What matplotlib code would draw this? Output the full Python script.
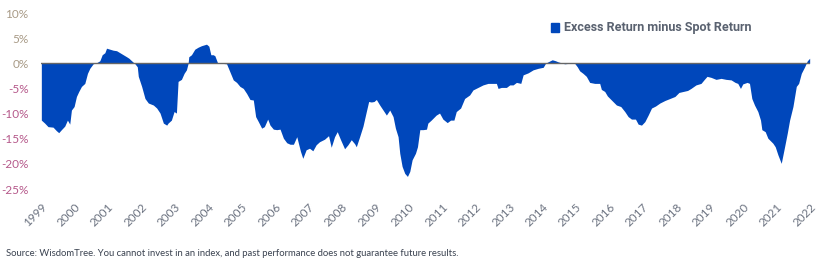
import matplotlib
matplotlib.use("Agg")
import matplotlib.pyplot as plt
from matplotlib.patches import Patch

# decimal year / excess minus spot return (%)
dates = [
    1999.01, 1999.11, 1999.21, 1999.36, 1999.46, 1999.53, 1999.61, 1999.71, 1999.79, 1999.86,
    1999.91, 1999.99, 2000.06, 2000.13, 2000.21, 2000.31, 2000.39, 2000.46, 2000.56, 2000.66,
    2000.76, 2000.83, 2000.91, 2000.96, 2001.06, 2001.16, 2001.26, 2001.36, 2001.46, 2001.56,
    2001.63, 2001.71, 2001.81, 2001.88, 2001.91, 2002.01, 2002.11, 2002.21, 2002.36, 2002.46,
    2002.56, 2002.66, 2002.76,
    2002.80, 2002.90, 2002.98, 2003.05, 2003.10, 2003.20, 2003.28, 2003.35, 2003.40, 2003.42,
    2003.50, 2003.60, 2003.70, 2003.80, 2003.95, 2004.02, 2004.08, 2004.15, 2004.20, 2004.28,
    2004.40, 2004.55, 2004.65, 2004.75, 2004.85, 2004.95, 2005.05, 2005.15, 2005.25, 2005.35,
    2005.42, 2005.50, 2005.60, 2005.68, 2005.78, 2005.85, 2005.95, 2006.05, 2006.15, 2006.25,
    2006.35, 2006.45, 2006.55, 2006.65,
    2006.76, 2006.83, 2006.93, 2007.03, 2007.13, 2007.23, 2007.33, 2007.48, 2007.60, 2007.68,
    2007.78, 2007.86, 2007.96, 2008.08, 2008.18, 2008.28, 2008.38, 2008.43, 2008.53, 2008.63,
    2008.73, 2008.80, 2008.88, 2008.96, 2009.03, 2009.13, 2009.23, 2009.33, 2009.43, 2009.53,
    2009.60, 2009.68, 2009.73, 2009.80, 2009.88, 2009.96, 2010.03, 2010.10, 2010.20, 2010.26,
    2010.33, 2010.43, 2010.53,
    2010.57, 2010.67, 2010.82, 2010.92, 2011.02, 2011.15, 2011.25, 2011.35, 2011.42, 2011.55,
    2011.67, 2011.82, 2011.92, 2012.07, 2012.22, 2012.37, 2012.52, 2012.62, 2012.67, 2012.77,
    2012.92, 2013.02, 2013.12, 2013.22, 2013.35, 2013.42, 2013.57, 2013.72, 2013.87, 2014.02,
    2014.09, 2014.17, 2014.29, 2014.39,
    2014.46, 2014.56, 2014.66, 2014.81, 2014.96, 2015.04, 2015.11, 2015.21, 2015.31, 2015.41,
    2015.56, 2015.71, 2015.76, 2015.86, 2015.94, 2016.06, 2016.21, 2016.34, 2016.46, 2016.56,
    2016.66, 2016.78, 2016.86, 2016.96, 2017.06, 2017.16, 2017.26, 2017.38, 2017.51, 2017.66,
    2017.81, 2017.96, 2018.08, 2018.21,
    2018.34, 2018.44, 2018.59, 2018.74, 2018.84, 2018.92, 2019.04, 2019.19, 2019.34, 2019.49,
    2019.64, 2019.76, 2019.84, 2019.92, 2019.99, 2020.12, 2020.19, 2020.26, 2020.34, 2020.44,
    2020.52, 2020.56, 2020.66, 2020.74, 2020.89, 2020.96, 2021.04, 2021.14, 2021.24, 2021.32,
    2021.39, 2021.49, 2021.59, 2021.66, 2021.74, 2021.84, 2021.92, 2021.99,
]
excess_minus_spot = [
    -11.3, -11.9, -12.6, -12.7, -13.4, -13.8, -13.2, -12.5, -11.3, -12.1,
    -9.3, -8.6, -6.6, -5.6, -4.6, -4.0, -2.0, -1.0, -0.1, 0.1,
    0.5, 1.7, 2.1, 3.0, 2.8, 2.6, 2.5, 2.1, 1.7, 1.3,
    1.0, 0.5, -0.1, -0.7, -2.6, -4.6, -7.0, -7.9, -8.3, -8.9,
    -9.9, -11.9, -12.3,
    -11.9, -11.3, -9.6, -9.9, -3.6, -3.2, -2.0, -1.3, 0.0, 1.3,
    1.7, 2.8, 3.2, 3.5, 3.8, 3.4, 1.7, 1.7, 1.5, 0.1,
    0.0, -0.1, -1.7, -3.3, -3.8, -4.6, -5.0, -6.0, -7.2, -7.3,
    -10.6, -11.6, -12.9, -12.6, -11.1, -12.3, -13.1, -13.2, -13.1, -14.9,
    -15.8, -16.1, -16.1, -14.6,
    -17.5, -18.9, -17.2, -16.9, -17.4, -16.2, -15.6, -15.1, -14.4, -16.7,
    -14.6, -13.6, -15.2, -17.0, -16.2, -15.2, -16.0, -16.6, -14.6, -12.5,
    -9.6, -7.6, -7.7, -7.6, -7.2, -8.3, -9.3, -10.3, -9.3, -10.6,
    -12.9, -14.6, -17.9, -20.5, -21.9, -22.5, -21.5, -19.2, -17.9, -16.6,
    -13.2, -13.2, -13.1,
    -11.9, -11.3, -10.3, -9.9, -11.1, -11.8, -11.3, -11.3, -9.6, -8.9,
    -7.0, -6.3, -5.3, -4.8, -4.3, -4.0, -4.0, -4.0, -5.0, -4.8,
    -4.8, -4.3, -4.3, -3.8, -4.0, -2.3, -1.9, -1.3, -1.0, -0.8,
    0.0, 0.3, 0.7, 0.5,
    0.3, 0.1, -0.1, 0.0, 0.0, -0.7, -1.5, -2.0, -2.6, -3.8,
    -4.0, -4.0, -5.2, -5.6, -6.5, -7.3, -8.3, -8.6, -9.6, -10.6,
    -11.1, -11.1, -12.1, -12.3, -11.6, -10.3, -8.9, -8.5, -7.9, -7.4,
    -7.0, -6.6, -5.8, -5.6,
    -5.4, -5.0, -4.3, -4.0, -3.2, -2.6, -2.8, -3.2, -3.0, -3.2,
    -3.3, -3.8, -4.0, -5.0, -4.1, -3.8, -4.0, -7.0, -8.3, -9.6,
    -11.3, -13.2, -13.6, -14.9, -15.9, -16.6, -18.2, -19.9, -16.6, -13.9,
    -11.3, -8.6, -4.6, -4.0, -2.0, -0.7, 0.5, 1.0,
]
years = list(range(1999, 2023))
yticks = [10, 5, 0, -5, -10, -15, -20, -25]

blue = "#0047bb"
plt.rcParams["font.family"] = ["Lato", "DejaVu Sans"]

fig = plt.figure(figsize=(8.18, 2.63), dpi=100)
ax = fig.add_axes([41 / 818, 1 - 189 / 263, 769 / 818, 176 / 263])

ax.fill_between(dates, excess_minus_spot, 0, color=blue, lw=0, zorder=2)
ax.axhline(0, color="#666666", lw=1, zorder=3)

ax.set_xlim(1999, 2022)
ax.set_ylim(-25, 10)
ax.set_xticks(years)
ax.set_xticklabels([str(y) for y in years], rotation=45, ha="right",
                   rotation_mode="anchor", fontsize=8.5, color="#6b7280")
ax.set_yticks(yticks)
ax.set_yticklabels([f"{v}%" for v in yticks], fontsize=8.5)
for lab, v in zip(ax.get_yticklabels(), yticks):
    lab.set_color("#a89a86" if v >= 0 else "#b5588a")
ax.tick_params(axis="both", length=0)
ax.tick_params(axis="y", pad=9)
ax.tick_params(axis="x", pad=9)
for s in ax.spines.values():
    s.set_visible(False)

handle = Patch(color=blue, label="Excess Return minus Spot Return")
leg = fig.legend(handles=[handle], loc="center left",
                 bbox_to_anchor=(551 / 818, 1 - 28 / 263), frameon=False,
                 handlelength=0.6, handleheight=0.7, handletextpad=0.4,
                 borderpad=0, borderaxespad=0,
                 prop={"family": "Roboto", "weight": "bold", "size": 9})
for t in leg.get_texts():
    t.set_color("#5a6270")

fig.text(6 / 818, 1 - 253 / 263,
         "Source: WisdomTree. You cannot invest in an index, and past performance does not guarantee future results.",
         fontsize=6.8, color="#3a4250", va="center", ha="left")

fig.savefig("out.png", dpi=100)
